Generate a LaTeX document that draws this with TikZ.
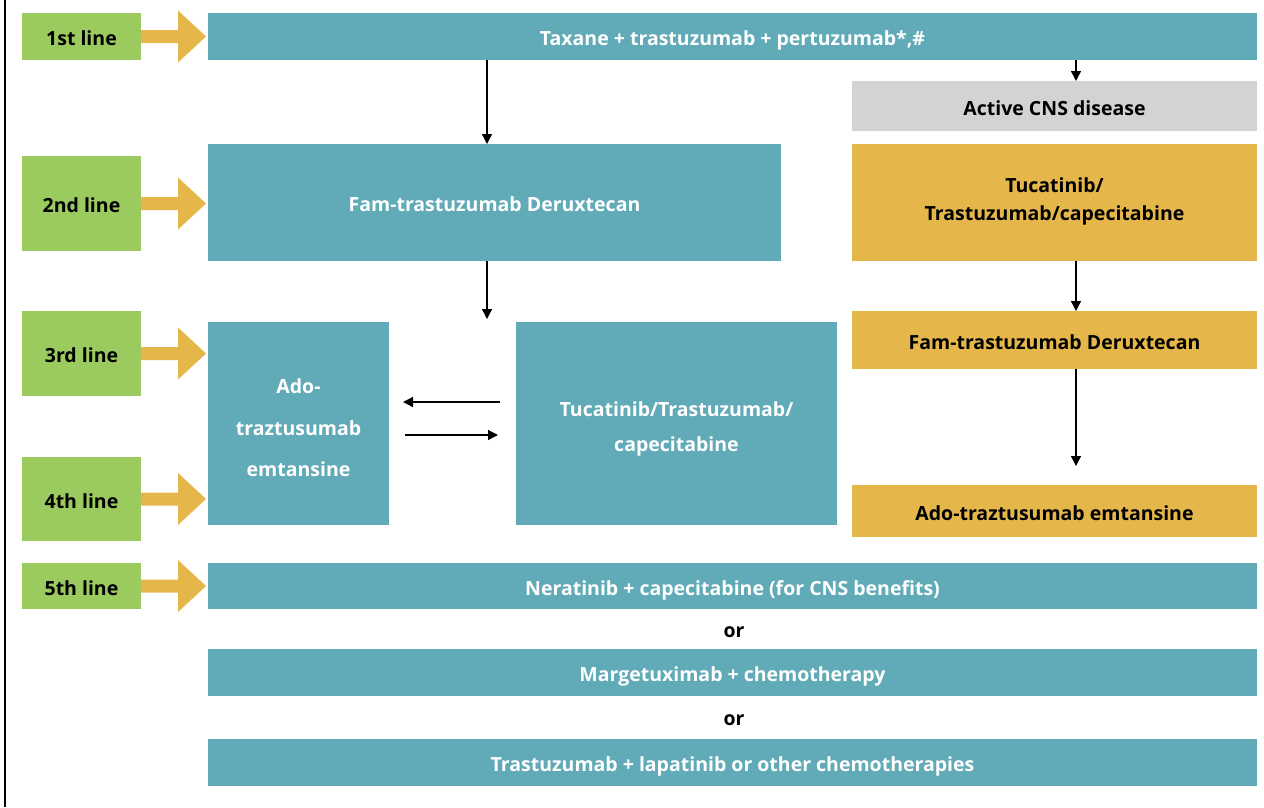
\documentclass[tikz,border=0pt]{standalone}
\usepackage{fontspec}
\setmainfont{Open Sans}
\usetikzlibrary{arrows.meta}
\definecolor{teal1}{HTML}{61AAB8}
\definecolor{green1}{HTML}{9BCB5E}
\definecolor{gold1}{HTML}{E5B74A}
\definecolor{gray1}{HTML}{D1D3D4}
\begin{document}
\begin{tikzpicture}[x=1pt,y=-1pt,
  base/.style={inner sep=0pt, outer sep=0pt, align=center, font=\fontsize{19.5}{28}\selectfont\bfseries},
  one/.style={text height=18pt, text depth=0pt},
  tealbox/.style={base, fill=teal1, text=white},
  goldbox/.style={base, fill=gold1, text=black},
  graybox/.style={base, fill=gray1, text=black},
  linebox/.style={base, one, fill=green1, text=black, minimum width=119pt},
  ortext/.style={base, one, text=black},
  conn/.style={draw=black, line width=1.3pt, -{Triangle[length=10pt,width=10pt]}}
]
\useasboundingbox (0,0) rectangle (1264,807);
\draw[line width=1.5pt] (5,0) -- (5,807);
% line labels
\node[linebox, minimum height=47pt] (g1) at (81.5,36.5) {1st line};
\node[linebox, minimum height=95pt] (g2) at (81.5,203.5) {2nd line};
\node[linebox, minimum height=85pt] (g3) at (81.5,353.5) {3rd line};
\node[linebox, minimum height=84pt] (g4) at (81.5,499) {4th line};
\node[linebox, minimum height=46pt] (g5) at (81.5,586) {5th line};
% boxes
\node[tealbox, one, minimum width=1049pt, minimum height=47pt] (top) at (732.5,36.5) {Taxane + trastuzumab + pertuzumab*,\#};
\node[graybox, one, minimum width=405pt, minimum height=50pt] (cns) at (1054.5,106) {Active CNS disease};
\node[tealbox, one, minimum width=573pt, minimum height=117pt] (ftd) at (494.5,202.5) {Fam-trastuzumab Deruxtecan};
\node[goldbox, minimum width=405pt, minimum height=117pt] (tuc1) at (1054.5,202.5) {};
\node[base, text=black] (tuc1t) at (1054.5,201.5) {Tucatinib/\\Trastuzumab/capecitabine};
\node[tealbox, minimum width=181pt, minimum height=203pt] (ado) at (298.5,423.5) {};
\node[base, text=white, font=\fontsize{19.5}{41.5}\selectfont\bfseries] (adot) at (298.5,428) {Ado-\\traztusumab\\emtansine};
\node[tealbox, minimum width=321pt, minimum height=203pt] (tuc2) at (676.5,423.5) {};
\node[base, text=white, font=\fontsize{19.5}{35}\selectfont\bfseries] (tuc2t) at (676.5,429) {Tucatinib/Trastuzumab/\\capecitabine};
\node[goldbox, one, minimum width=405pt, minimum height=58pt] (ftd2) at (1054.5,340) {Fam-trastuzumab Deruxtecan};
\node[goldbox, one, minimum width=405pt, minimum height=52pt] (ado2) at (1054.5,511) {Ado-traztusumab emtansine};
\node[tealbox, one, minimum width=1049pt, minimum height=46pt] (ner) at (732.5,586) {Neratinib + capecitabine (for CNS benefits)};
\node[ortext] (or1) at (734,628) {or};
\node[tealbox, one, minimum width=1049pt, minimum height=47pt] (mar) at (732.5,672.5) {Margetuximab + chemotherapy};
\node[ortext] (or2) at (734,716) {or};
\node[tealbox, one, minimum width=1049pt, minimum height=47pt] (tra) at (732.5,762.5) {Trastuzumab + lapatinib or other chemotherapies};
% gold arrows
\foreach \g/\b in {g1/top, g2/ftd, g3/ado, g4/ado, g5/ner}{
  \fill[gold1] (\g.east) ++(0,-6.5) -- ++(37,0) -- ++(0,-19.5) -- ++(28,26) -- ++(-28,26) -- ++(0,-19.5) -- ++(-37,0) -- cycle;
}
% connectors
\coordinate (f1) at (487,319);
\coordinate (f2) at (1076,466);
\draw[conn] (top.south -| 487,0) -- (ftd.north -| 487,0);
\draw[conn] (top.south -| 1076,0) -- (cns.north -| 1076,0);
\draw[conn] (ftd.south -| 487,0) -- (f1);
\draw[conn] (tuc1.south -| 1076,0) -- (ftd2.north -| 1076,0);
\draw[conn] (ftd2.south -| 1076,0) -- (f2);
\coordinate (la) at (500,402);
\coordinate (lb) at (403,402);
\coordinate (ra) at (405,435);
\coordinate (rb) at (498,435);
\draw[conn] (la) -- (lb);
\draw[conn] (ra) -- (rb);
\end{tikzpicture}
\end{document}
